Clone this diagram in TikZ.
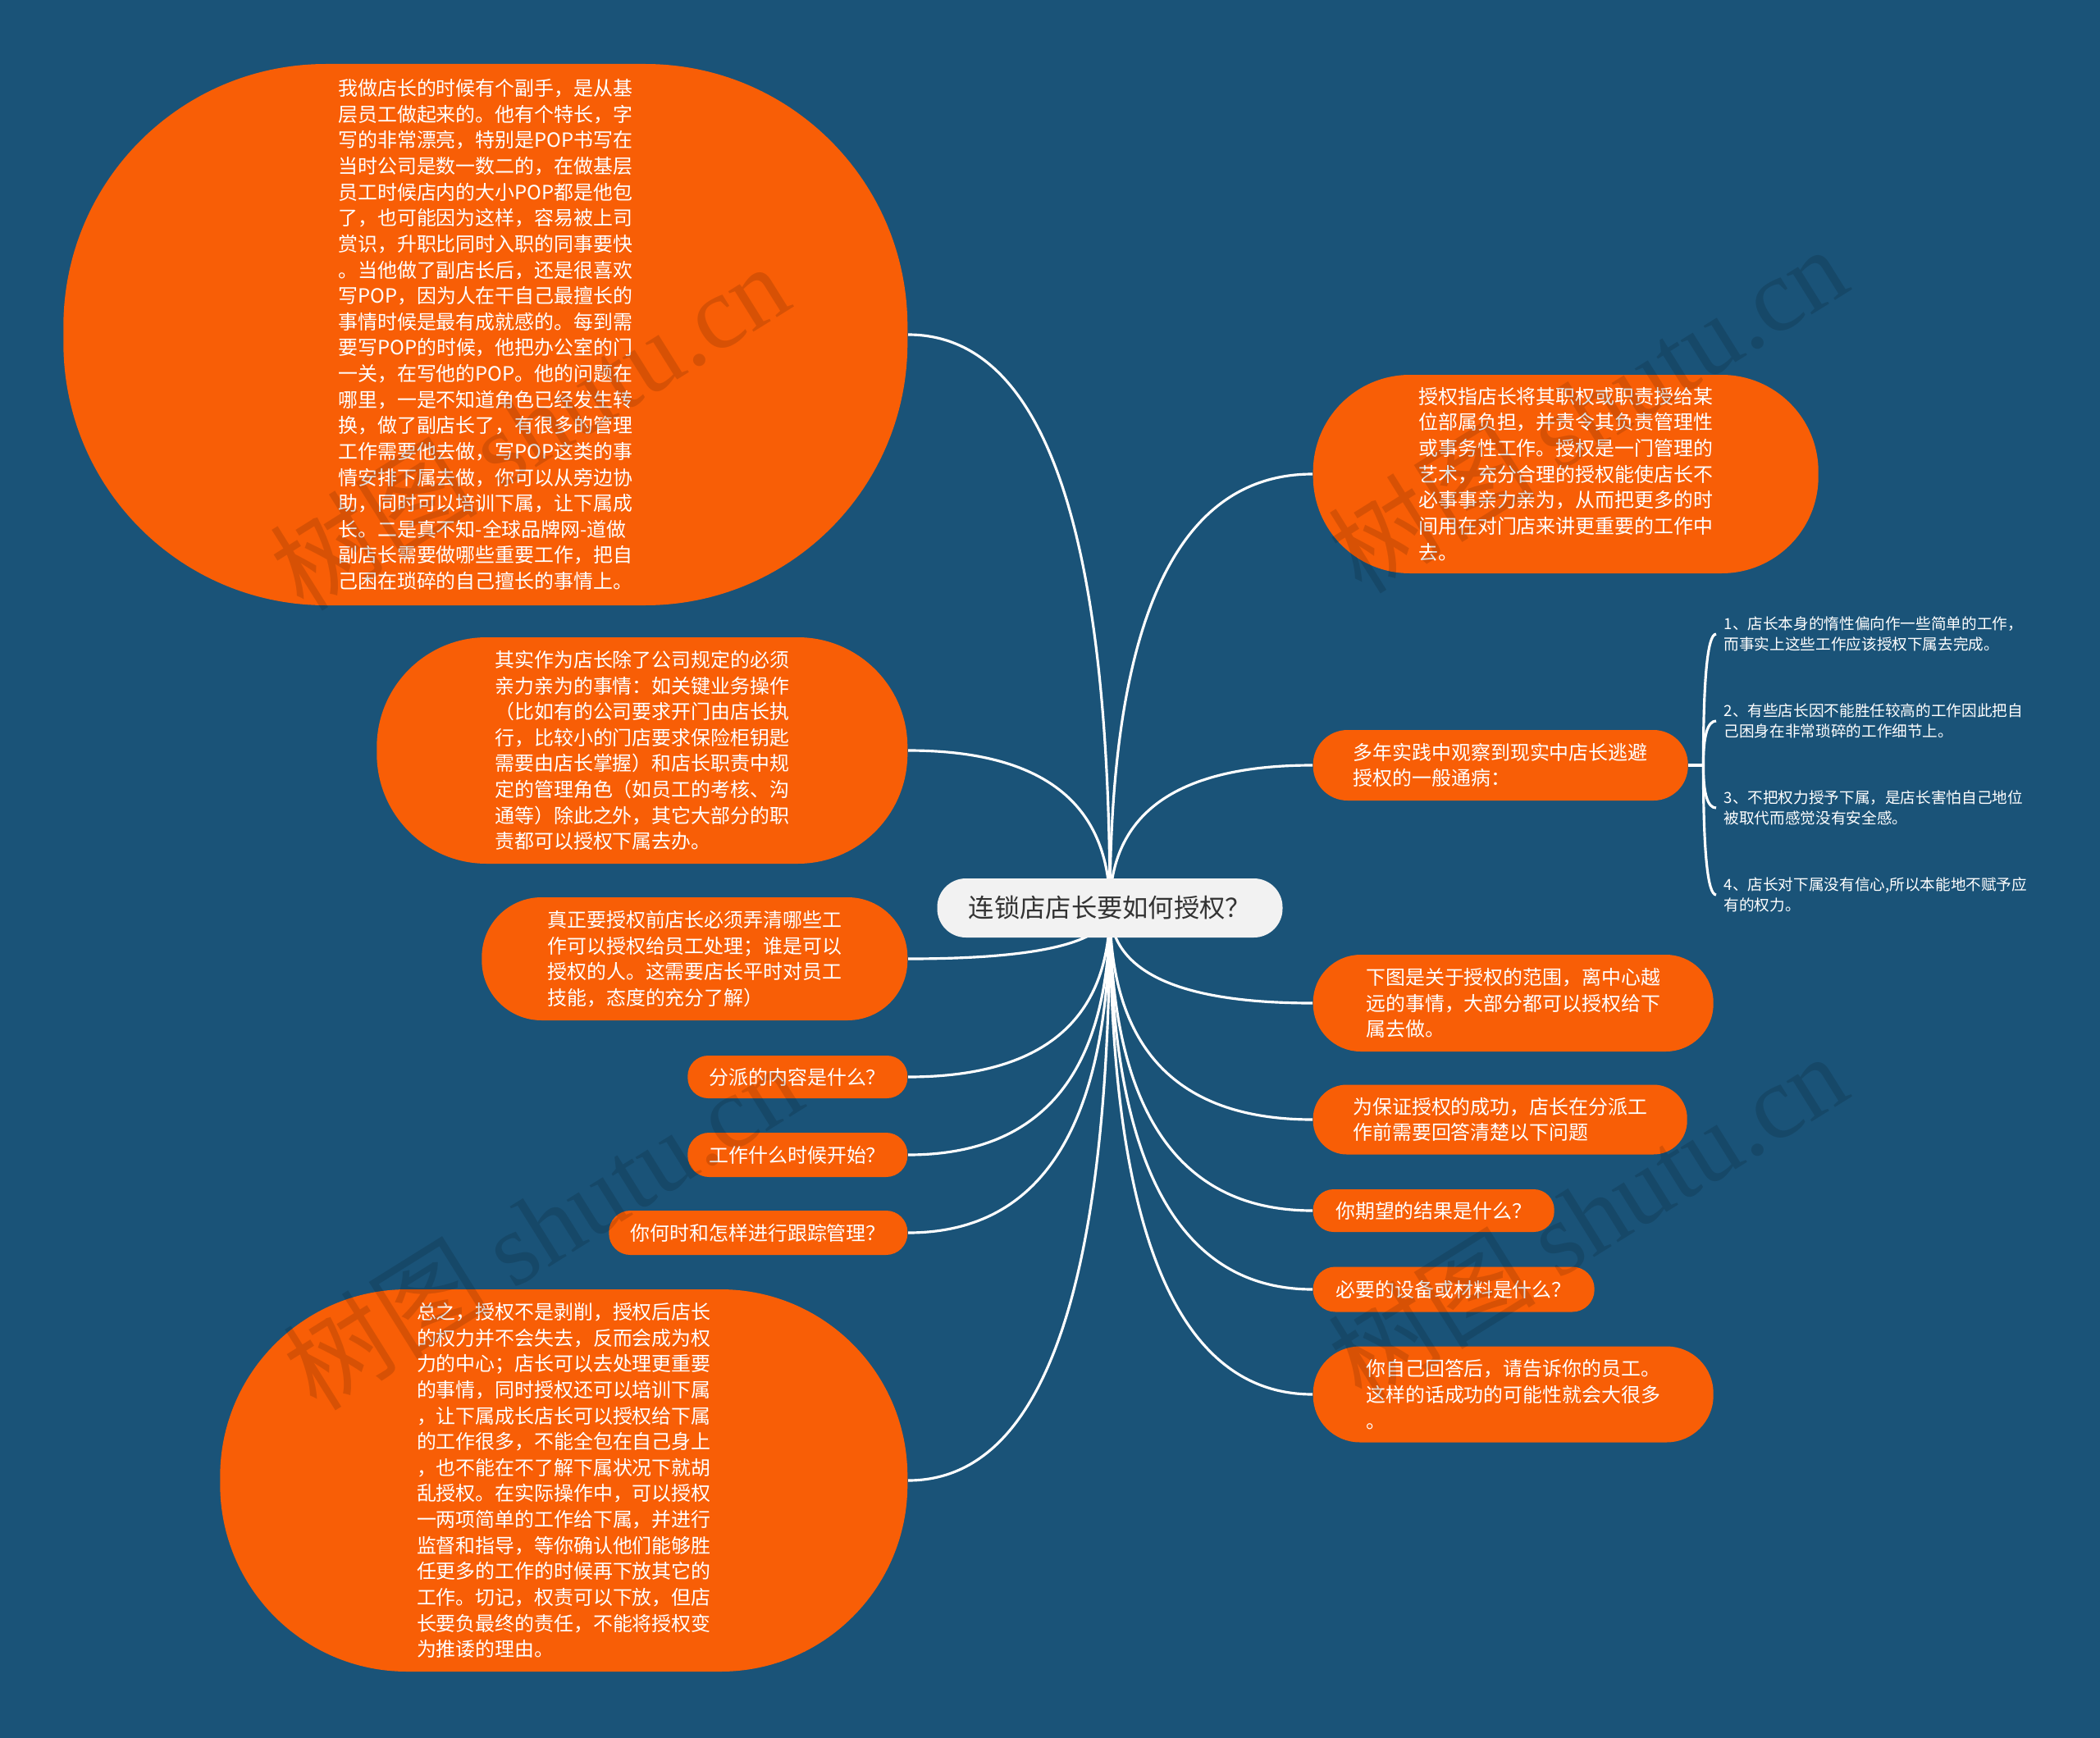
\documentclass[tikz,border=0pt]{standalone}
\usepackage{fontspec}
\setmainfont{Noto Sans CJK SC}
\newfontfamily\markfont{Liberation Serif}
\usetikzlibrary{calc}
\definecolor{bgblue}{HTML}{1A5378}
\definecolor{topicorange}{HTML}{F85E06}
\definecolor{rootgray}{HTML}{F2F2F2}
\definecolor{roottext}{HTML}{333333}
\pgfdeclarelayer{backdrop}
\pgfdeclarelayer{links}
\pgfdeclarelayer{stamp}
\pgfsetlayers{backdrop,links,main,stamp}
\begin{document}
\begin{tikzpicture}[x=1cm,y=1cm,
 topic/.style={fill=topicorange,text=white,inner sep=0pt,align=left,
   font=\fontsize{6.8}{9}\selectfont},
 link/.style={draw=white,line width=0.9pt},
 branch/.style={to path={.. controls ($(\tikztostart)!2/3!(\tikztostart |- \tikztotarget)$)
   and ($(\tikztotarget)!2/3!(\tikztostart |- \tikztotarget)$) .. (\tikztotarget)}},
 habit/.style={text=white,inner xsep=0.09cm,inner ysep=0pt,align=left,anchor=west,
   font=\fontsize{5.3}{6.95}\selectfont},
 stampmark/.style={text=black,opacity=0.13,rotate=32,font=\fontsize{36}{36}\selectfont}]
\useasboundingbox (0,0) rectangle (25.6,-21.19);
\begin{pgfonlayer}{backdrop}
\fill[bgblue] (0,0) rectangle (25.6,-21.19);
\end{pgfonlayer}
% centre
\node[fill=rootgray,text=roottext,rounded corners=0.35cm,minimum width=4.21cm,
 minimum height=0.72cm,inner sep=0pt,font=\fontsize{8.9}{10}\selectfont]
 (root) at (13.53,-11.07) {连锁店店长要如何授权？};
% left side
\node[topic,anchor=east,minimum width=10.29cm,minimum height=6.6cm,rounded corners=3.2cm]
 (deputy) at (11.07,-4.08) {我做店长的时候有个副手，是从基\\层员工做起来的。他有个特长，字\\写的非常漂亮，特别是POP书写在\\当时公司是数一数二的，在做基层\\员工时候店内的大小POP都是他包\\了，也可能因为这样，容易被上司\\赏识，升职比同时入职的同事要快\\。当他做了副店长后，还是很喜欢\\写POP，因为人在干自己最擅长的\\事情时候是最有成就感的。每到需\\要写POP的时候，他把办公室的门\\一关，在写他的POP。他的问题在\\哪里，一是不知道角色已经发生转\\换，做了副店长了，有很多的管理\\工作需要他去做，写POP这类的事\\情安排下属去做，你可以从旁边协\\助，同时可以培训下属，让下属成\\长。二是真不知-全球品牌网-道做\\副店长需要做哪些重要工作，把自\\己困在琐碎的自己擅长的事情上。};
\node[topic,anchor=east,minimum width=6.47cm,minimum height=2.76cm,rounded corners=1.34cm]
 (duties) at (11.07,-9.15) {其实作为店长除了公司规定的必须\\亲力亲为的事情：如关键业务操作\\（比如有的公司要求开门由店长执\\行，比较小的门店要求保险柜钥匙\\需要由店长掌握）和店长职责中规\\定的管理角色（如员工的考核、沟\\通等）除此之外，其它大部分的职\\责都可以授权下属去办。};
\node[topic,anchor=east,minimum width=5.19cm,minimum height=1.5cm,rounded corners=0.73cm]
 (clarify) at (11.07,-11.69) {真正要授权前店长必须弄清哪些工\\作可以授权给员工处理；谁是可以\\授权的人。这需要店长平时对员工\\技能，态度的充分了解）};
\node[topic,anchor=east,minimum width=2.68cm,minimum height=0.52cm,rounded corners=0.25cm]
 (what) at (11.07,-13.13) {分派的内容是什么？};
\node[topic,anchor=east,minimum width=2.68cm,minimum height=0.54cm,rounded corners=0.26cm]
 (when) at (11.07,-14.08) {工作什么时候开始？};
\node[topic,anchor=east,minimum width=3.64cm,minimum height=0.54cm,rounded corners=0.26cm]
 (track) at (11.07,-15.03) {你何时和怎样进行跟踪管理？};
\node[topic,anchor=east,minimum width=8.38cm,minimum height=4.66cm,rounded corners=2.28cm]
 (summary) at (11.07,-18.05) {总之，授权不是剥削，授权后店长\\的权力并不会失去，反而会成为权\\力的中心；店长可以去处理更重要\\的事情，同时授权还可以培训下属\\，让下属成长店长可以授权给下属\\的工作很多，不能全包在自己身上\\，也不能在不了解下属状况下就胡\\乱授权。在实际操作中，可以授权\\一两项简单的工作给下属，并进行\\监督和指导，等你确认他们能够胜\\任更多的工作的时候再下放其它的\\工作。切记，权责可以下放，但店\\长要负最终的责任，不能将授权变\\为推诿的理由。};
% right side
\node[topic,anchor=west,minimum width=6.16cm,minimum height=2.42cm,rounded corners=1.18cm]
 (define) at (16,-5.78) {授权指店长将其职权或职责授给某\\位部属负担，并责令其负责管理性\\或事务性工作。授权是一门管理的\\艺术，充分合理的授权能使店长不\\必事事亲力亲为，从而把更多的时\\间用在对门店来讲更重要的工作中\\去。};
\node[topic,anchor=west,minimum width=4.57cm,minimum height=0.86cm,rounded corners=0.42cm]
 (habits) at (16,-9.33) {多年实践中观察到现实中店长逃避\\授权的一般通病：};
\node[topic,anchor=west,minimum width=4.88cm,minimum height=1.18cm,rounded corners=0.58cm]
 (range) at (16,-12.23) {下图是关于授权的范围，离中心越\\远的事情，大部分都可以授权给下\\属去做。};
\node[topic,anchor=west,minimum width=4.56cm,minimum height=0.85cm,rounded corners=0.41cm]
 (success) at (16,-13.65) {为保证授权的成功，店长在分派工\\作前需要回答清楚以下问题};
\node[topic,anchor=west,minimum width=2.94cm,minimum height=0.52cm,rounded corners=0.25cm]
 (result) at (16,-14.76) {你期望的结果是什么？};
\node[topic,anchor=west,minimum width=3.43cm,minimum height=0.55cm,rounded corners=0.27cm]
 (tools) at (16,-15.72) {必要的设备或材料是什么？};
\node[topic,anchor=west,minimum width=4.88cm,minimum height=1.17cm,rounded corners=0.57cm]
 (tell) at (16,-17.00) {你自己回答后，请告诉你的员工。\\这样的话成功的可能性就会大很多\\。};
% habits list
\node[habit] (habit1) at (20.92,-7.73) {1、店长本身的惰性偏向作一些简单的工作，\\而事实上这些工作应该授权下属去完成。};
\node[habit] (habit2) at (20.92,-8.79) {2、有些店长因不能胜任较高的工作因此把自\\己困身在非常琐碎的工作细节上。};
\node[habit] (habit3) at (20.92,-9.85) {3、不把权力授予下属，是店长害怕自己地位\\被取代而感觉没有安全感。};
\node[habit] (habit4) at (20.92,-10.91) {4、店长对下属没有信心,所以本能地不赋予应\\有的权力。};
\coordinate (fork) at ([xshift=0.18cm]habits.east);
\begin{pgfonlayer}{links}
\foreach \kid in {deputy,duties,clarify,what,when,track,summary}
  \draw[link,branch] (root.center) to (\kid.east);
\foreach \kid in {define,habits,range,success,result,tools,tell}
  \draw[link,branch] (root.center) to (\kid.west);
\draw[link] (habits.east) -- (fork);
\foreach \i in {1,...,4}
  \draw[link,branch] (fork) to (habit\i.west);
\end{pgfonlayer}
% watermarks
\begin{pgfonlayer}{stamp}
\node[stampmark] (wm1) at (6.45,-5.19) {树图 {\markfont shutu.cn}};
\node[stampmark] (wm2) at (19.35,-4.98) {树图 {\markfont shutu.cn}};
\node[stampmark] (wm3) at (6.61,-14.94) {树图 {\markfont shutu.cn}};
\node[stampmark] (wm4) at (19.35,-14.82) {树图 {\markfont shutu.cn}};
\end{pgfonlayer}
\end{tikzpicture}
\end{document}
